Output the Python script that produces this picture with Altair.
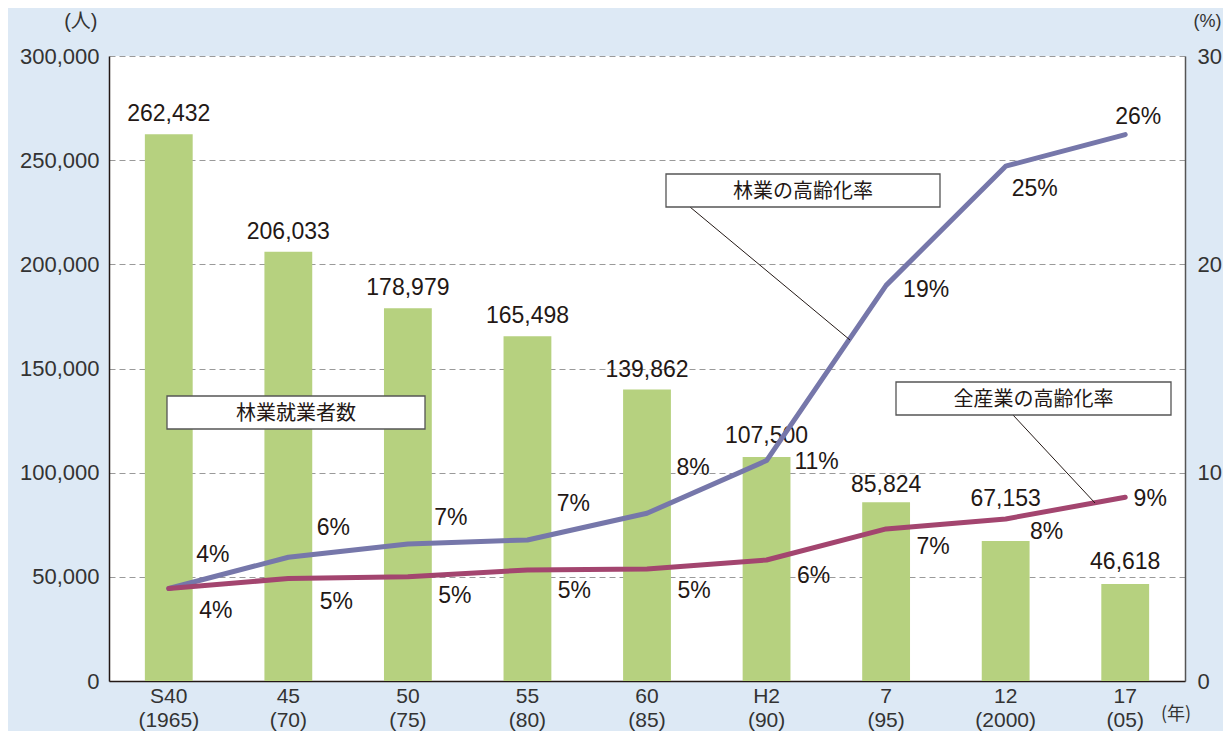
import altair as alt
import pandas as pd

# ---- data ----
categories = ["S40|(1965)", "45|(70)", "50|(75)", "55|(80)", "60|(85)",
              "H2|(90)", "7|(95)", "12|(2000)", "17|(05)"]
workers = [262432, 206033, 178979, 165498, 139862, 107500, 85824, 67153, 46618]
forestry_rate = [4.44, 5.94, 6.58, 6.77, 8.05, 10.58, 18.99, 24.71, 26.23]
industry_rate = [4.44, 4.92, 5.00, 5.33, 5.38, 5.81, 7.30, 7.78, 8.82]
forestry_labels = ["4%", "6%", "7%", "7%", "8%", "11%", "19%", "25%", "26%"]
industry_labels = ["4%", "5%", "5%", "5%", "5%", "6%", "7%", "8%", "9%"]

# label placement offsets (pixels, relative to each point / bar top)
bar_dy = [-20, -20, -20, -20, -20, -21, -17, -42, -22]
forestry_dx = [44, 45, 43, 46, 46, 50, 40, 29, 13]
forestry_dy = [-34, -29, -26, -36, -45, 1, 5, 23, -18]
industry_dx = [47, 48, 47, 47, 47, 47, 47, 41, 25]
industry_dy = [22, 23, 19, 21, 22, 16, 18, 13, 2]

df = pd.DataFrame({
    "cat": categories,
    "workers": workers,
    "forestry": forestry_rate,
    "industry": industry_rate,
    "flab": forestry_labels,
    "ilab": industry_labels,
})

FONT = "Liberation Sans, 'Noto Sans CJK JP', sans-serif"
JFONT = "'Noto Sans CJK JP', sans-serif"
TXT = "#231815"
BAR = "#b6d17f"
PURPLE = "#7677aa"
MAGENTA = "#a3456f"

W, H = 1076, 625

x_enc = alt.X("cat:N", sort=categories,
              scale=alt.Scale(paddingInner=0.6, paddingOuter=0.3),
              axis=alt.Axis(title=None, labelAngle=0,
                            labelExpr="split(datum.label, '|')",
                            labelFontSize=21, labelLineHeight=24,
                            labelPadding=4, ticks=False,
                            domainColor=TXT, domainWidth=1.5,
                            labelColor="#333333", labelFont=FONT))
x_plain = alt.X("cat:N", sort=categories)

base = alt.Chart(df)

bars = base.mark_bar(color=BAR).encode(
    x=x_enc,
    y=alt.Y("workers:Q",
            scale=alt.Scale(domain=[0, 300000], nice=False),
            axis=alt.Axis(title="(人)", titleAngle=0, titleAlign="right",
                          titleBaseline="middle", titleX=-12, titleY=-35,
                          titleFont=FONT, titleFontSize=20, titleFontWeight="normal",
                          titleColor="#333333",
                          values=[0, 50000, 100000, 150000, 200000, 250000, 300000],
                          format=",d", labelFontSize=22, labelColor="#333333",
                          labelFont=FONT, labelPadding=10, ticks=False,
                          domainColor=TXT, domainWidth=1.5,
                          grid=True, gridColor="#9a9a9a", gridDash=[6, 4],
                          gridWidth=1)),
)
bar_texts = []
for i, c in enumerate(categories):
    bar_texts.append(
        base.transform_filter(alt.datum.cat == c).mark_text(
            fontSize=23, font=FONT, color=TXT, dy=bar_dy[i],
            baseline="middle").encode(
            x=x_plain, y=alt.Y("workers:Q"),
            text=alt.Text("workers:Q", format=",d")))
bar_layer = alt.layer(bars, *bar_texts)

y_right = alt.Y("forestry:Q",
                scale=alt.Scale(domain=[0, 30], nice=False),
                axis=alt.Axis(orient="right", title="(%)", titleAngle=0,
                              titleAlign="left", titleBaseline="middle",
                              titleX=8, titleY=-35, titleFont=FONT,
                              titleFontSize=18, titleFontWeight="normal",
                              titleColor="#333333",
                              values=[0, 10, 20, 30], labelFontSize=22,
                              labelColor="#333333", labelFont=FONT,
                              labelPadding=12, ticks=False, grid=False,
                              domainColor="#555555", domainWidth=1.5))

line_f = base.mark_line(color=PURPLE, strokeWidth=5, strokeCap="round",
                        strokeJoin="round").encode(x=x_plain, y=y_right)
line_i = base.mark_line(color=MAGENTA, strokeWidth=5, strokeCap="round",
                        strokeJoin="round").encode(x=x_plain, y=alt.Y("industry:Q"))

point_labels = []
for i, c in enumerate(categories):
    point_labels.append(
        base.transform_filter(alt.datum.cat == c).mark_text(
            fontSize=23, font=FONT, color=TXT, baseline="middle",
            dx=forestry_dx[i], dy=forestry_dy[i]).encode(
            x=x_plain, y=alt.Y("forestry:Q"), text="flab:N"))
    point_labels.append(
        base.transform_filter(alt.datum.cat == c).mark_text(
            fontSize=23, font=FONT, color=TXT, baseline="middle",
            dx=industry_dx[i], dy=industry_dy[i]).encode(
            x=x_plain, y=alt.Y("industry:Q"), text="ilab:N"))

line_layer = alt.layer(line_f, line_i, *point_labels)

# ---- annotations (pixel positions within plot area) ----
one = pd.DataFrame({"k": [0]})


def callout(x1, x2, y1, y2, label, lx1=None, ly1=None, lx2=None, ly2=None):
    layers = []
    if lx1 is not None:
        layers.append(alt.Chart(one).mark_rule(color=TXT, strokeWidth=1).encode(
            x=alt.value(lx1), x2=alt.value(lx2), y=alt.value(ly1), y2=alt.value(ly2)))
    layers.append(alt.Chart(one).mark_rect(fill="white", stroke="#555555",
                                           strokeWidth=1.3).encode(
        x=alt.value(x1), x2=alt.value(x2), y=alt.value(y1), y2=alt.value(y2)))
    layers.append(alt.Chart(one).mark_text(font=JFONT, fontSize=20, color=TXT,
                                           baseline="middle", align="center").encode(
        x=alt.value((x1 + x2) / 2), y=alt.value((y1 + y2) / 2 + 1),
        text=alt.value(label)))
    return layers


ann = []
ann += callout(58, 316, 340, 373, "林業就業者数")
ann += callout(557, 831, 118, 151, "林業の高齢化率", 581, 151, 741, 284)
ann += callout(787, 1062, 326, 359, "全産業の高齢化率", 904, 359, 986, 447)
ann.append(alt.Chart(one).mark_text(font=JFONT, fontSize=18, color="#333333",
                                    baseline="middle", align="center").encode(
    x=alt.value(1067), y=alt.value(659), text=alt.value("(年)")))

chart = alt.layer(bar_layer, line_layer, *ann).resolve_scale(
    y="independent"
).properties(
    width=W, height=H,
    padding={"left": 101, "top": 48, "right": 38, "bottom": 50},
    autosize=alt.AutoSizeParams(type="none"),
    background="#dde9f5",
).configure_view(
    fill="white", stroke=None, strokeWidth=0
)

chart.save("out.html", embed_options={"renderer": "svg", "actions": False})
